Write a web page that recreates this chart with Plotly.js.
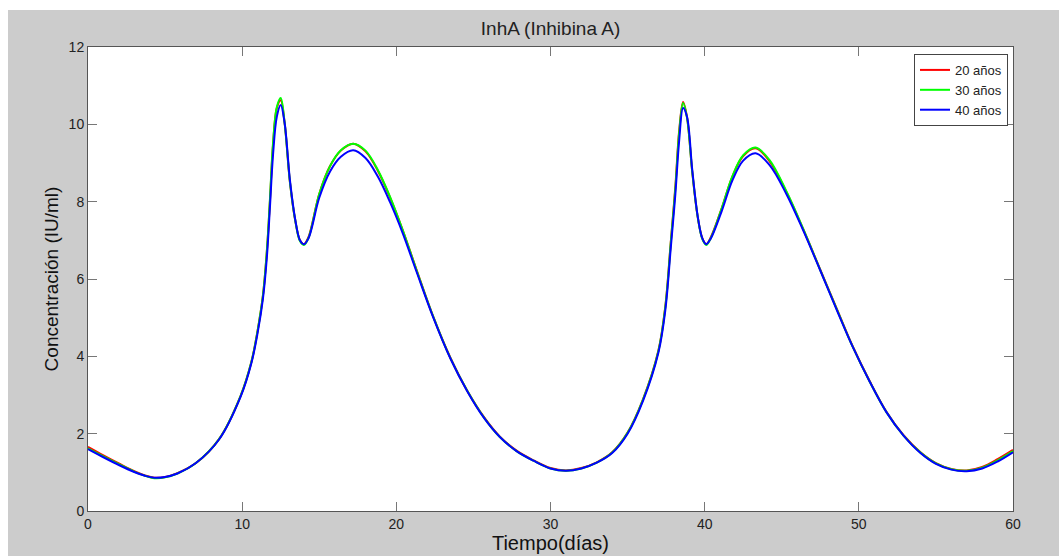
<!DOCTYPE html>
<html>
<head>
<meta charset="utf-8">
<script src="https://cdn.plot.ly/plotly-3.0.1.min.js"></script>
<style>
  html, body { margin: 0; padding: 0; background: #ffffff; }
  #chart { position: absolute; left: 8px; top: 10px; width: 1051px; height: 546px; }
</style>
</head>
<body>
<div id="chart"></div>
<script>
// Time (days)
const tiempo = [0, 1, 2, 3, 3.7, 4.3, 5.0, 5.8, 7, 8.5, 9.9, 10.6, 11.0, 11.35, 11.6, 11.8, 12.0, 12.25, 12.5, 12.75, 13.1, 13.45, 13.75, 14.0, 14.3, 15.0, 15.7, 16.4, 17.2, 18.0, 18.8, 19.6, 20.4, 21.3, 22.4, 23.5, 24.6, 25.7, 26.7, 27.8, 28.9, 30.0, 31.0, 32.0, 33.0, 34.0, 35.0, 36.0, 37.0, 37.45, 37.8, 38.1, 38.35, 38.6, 38.85, 39.2, 39.55, 39.85, 40.1, 40.4, 41.1, 41.8, 42.5, 43.3, 44.2, 45.3, 46.4, 47.5, 48.6, 49.6, 50.7, 51.8, 52.9, 54.0, 55.0, 56.0, 57.0, 58.0, 59.0, 60.0];

// InhA concentration (IU/ml), 20 years
const inh20 = [1.66, 1.44, 1.23, 1.03, 0.92, 0.86, 0.88, 0.98, 1.24, 1.86, 2.98, 3.86, 4.66, 5.58, 6.7, 8.0, 9.45, 10.42, 10.62, 10.05, 8.5, 7.5, 7.0, 6.9, 7.08, 8.2, 8.92, 9.32, 9.5, 9.3, 8.8, 8.1, 7.28, 6.25, 5.02, 3.97, 3.11, 2.42, 1.93, 1.56, 1.31, 1.11, 1.05, 1.11, 1.26, 1.52, 2.03, 2.89, 4.15, 5.3, 6.95, 8.4, 9.85, 10.58, 10.2, 8.75, 7.6, 7.05, 6.9, 7.08, 7.82, 8.65, 9.18, 9.38, 9.05, 8.25, 7.28, 6.24, 5.2, 4.26, 3.36, 2.56, 1.96, 1.52, 1.24, 1.09, 1.05, 1.14, 1.34, 1.58];

// InhA concentration (IU/ml), 30 years
const inh30 = [1.62, 1.41, 1.21, 1.02, 0.91, 0.85, 0.87, 0.97, 1.24, 1.86, 2.98, 3.86, 4.66, 5.58, 6.72, 8.05, 9.5, 10.45, 10.68, 10.05, 8.5, 7.5, 6.98, 6.88, 7.06, 8.2, 8.92, 9.33, 9.5, 9.32, 8.82, 8.12, 7.28, 6.24, 5.02, 3.96, 3.11, 2.41, 1.92, 1.55, 1.3, 1.1, 1.04, 1.1, 1.25, 1.51, 2.02, 2.88, 4.14, 5.28, 6.92, 8.35, 9.8, 10.55, 10.18, 8.75, 7.6, 7.03, 6.88, 7.06, 7.82, 8.66, 9.2, 9.4, 9.08, 8.27, 7.29, 6.23, 5.19, 4.25, 3.35, 2.55, 1.95, 1.51, 1.23, 1.08, 1.04, 1.12, 1.31, 1.55];

// InhA concentration (IU/ml), 40 years
const inh40 = [1.60, 1.39, 1.19, 1.01, 0.91, 0.86, 0.88, 0.97, 1.24, 1.85, 2.96, 3.83, 4.6, 5.5, 6.55, 7.85, 9.2, 10.2, 10.5, 10.05, 8.55, 7.52, 7.0, 6.9, 7.05, 8.1, 8.78, 9.16, 9.33, 9.13, 8.65, 7.98, 7.2, 6.2, 5.0, 3.95, 3.1, 2.4, 1.92, 1.55, 1.3, 1.1, 1.04, 1.1, 1.25, 1.5, 2.0, 2.85, 4.1, 5.2, 6.8, 8.2, 9.6, 10.42, 10.2, 8.8, 7.62, 7.05, 6.9, 7.05, 7.75, 8.55, 9.06, 9.25, 8.95, 8.2, 7.25, 6.22, 5.17, 4.25, 3.35, 2.55, 1.95, 1.5, 1.22, 1.07, 1.03, 1.1, 1.28, 1.52];

const seriesNames = ["20 años", "30 años", "40 años"];
const seriesColors = ["#ff0000", "#00ff00", "#0000ff"];
const xTicks = [0, 10, 20, 30, 40, 50, 60];
const yTicks = [0, 2, 4, 6, 8, 10, 12];

const ys = [inh20, inh30, inh40];
const traces = ys.map((y, i) => ({
  x: tiempo,
  y: y,
  type: "scatter",
  mode: "lines",
  name: seriesNames[i],
  line: { color: seriesColors[i], width: 2, shape: "spline", smoothing: 1 }
}));

const FONT = "Liberation Sans, Arial, sans-serif";

const axisCommon = {
  showgrid: false,
  zeroline: false,
  showline: true,
  linecolor: "#555555",
  linewidth: 1,
  mirror: "ticks",
  ticks: "inside",
  ticklen: 9,
  tickwidth: 1,
  tickcolor: "#777777",
  tickfont: { family: FONT, size: 14, color: "#222222" }
};

const layout = {
  width: 1051,
  height: 546,
  paper_bgcolor: "#cccccc",
  plot_bgcolor: "#ffffff",
  margin: { l: 80, r: 46, t: 37, b: 45 },
  showlegend: true,
  title: {
    text: "InhA (Inhibina A)",
    font: { family: FONT, size: 19, color: "#222222" },
    x: 0.5, xref: "paper", xanchor: "center",
    y: 0.967, yref: "container", yanchor: "middle"
  },
  xaxis: Object.assign({}, axisCommon, {
    range: [0, 60],
    tickvals: xTicks,
    ticktext: xTicks.map(String),
    title: { text: "Tiempo(días)", standoff: 2,
      font: { family: FONT, size: 20, color: "#111111" } }
  }),
  yaxis: Object.assign({}, axisCommon, {
    range: [0, 12],
    tickvals: yTicks,
    ticktext: yTicks.map(String),
    title: { text: "Concentración (IU/ml)", standoff: 4,
      font: { family: FONT, size: 19, color: "#111111" } }
  }),
  legend: {
    x: 0.9946, xanchor: "right",
    y: 0.985, yanchor: "top",
    bgcolor: "#ffffff",
    bordercolor: "#444444",
    borderwidth: 1,
    font: { family: FONT, size: 13, color: "#222222" },
    tracegroupgap: 0,
    itemwidth: 30
  }
};

Plotly.newPlot("chart", traces, layout, { displayModeBar: false, staticPlot: true });
</script>
</body>
</html>
